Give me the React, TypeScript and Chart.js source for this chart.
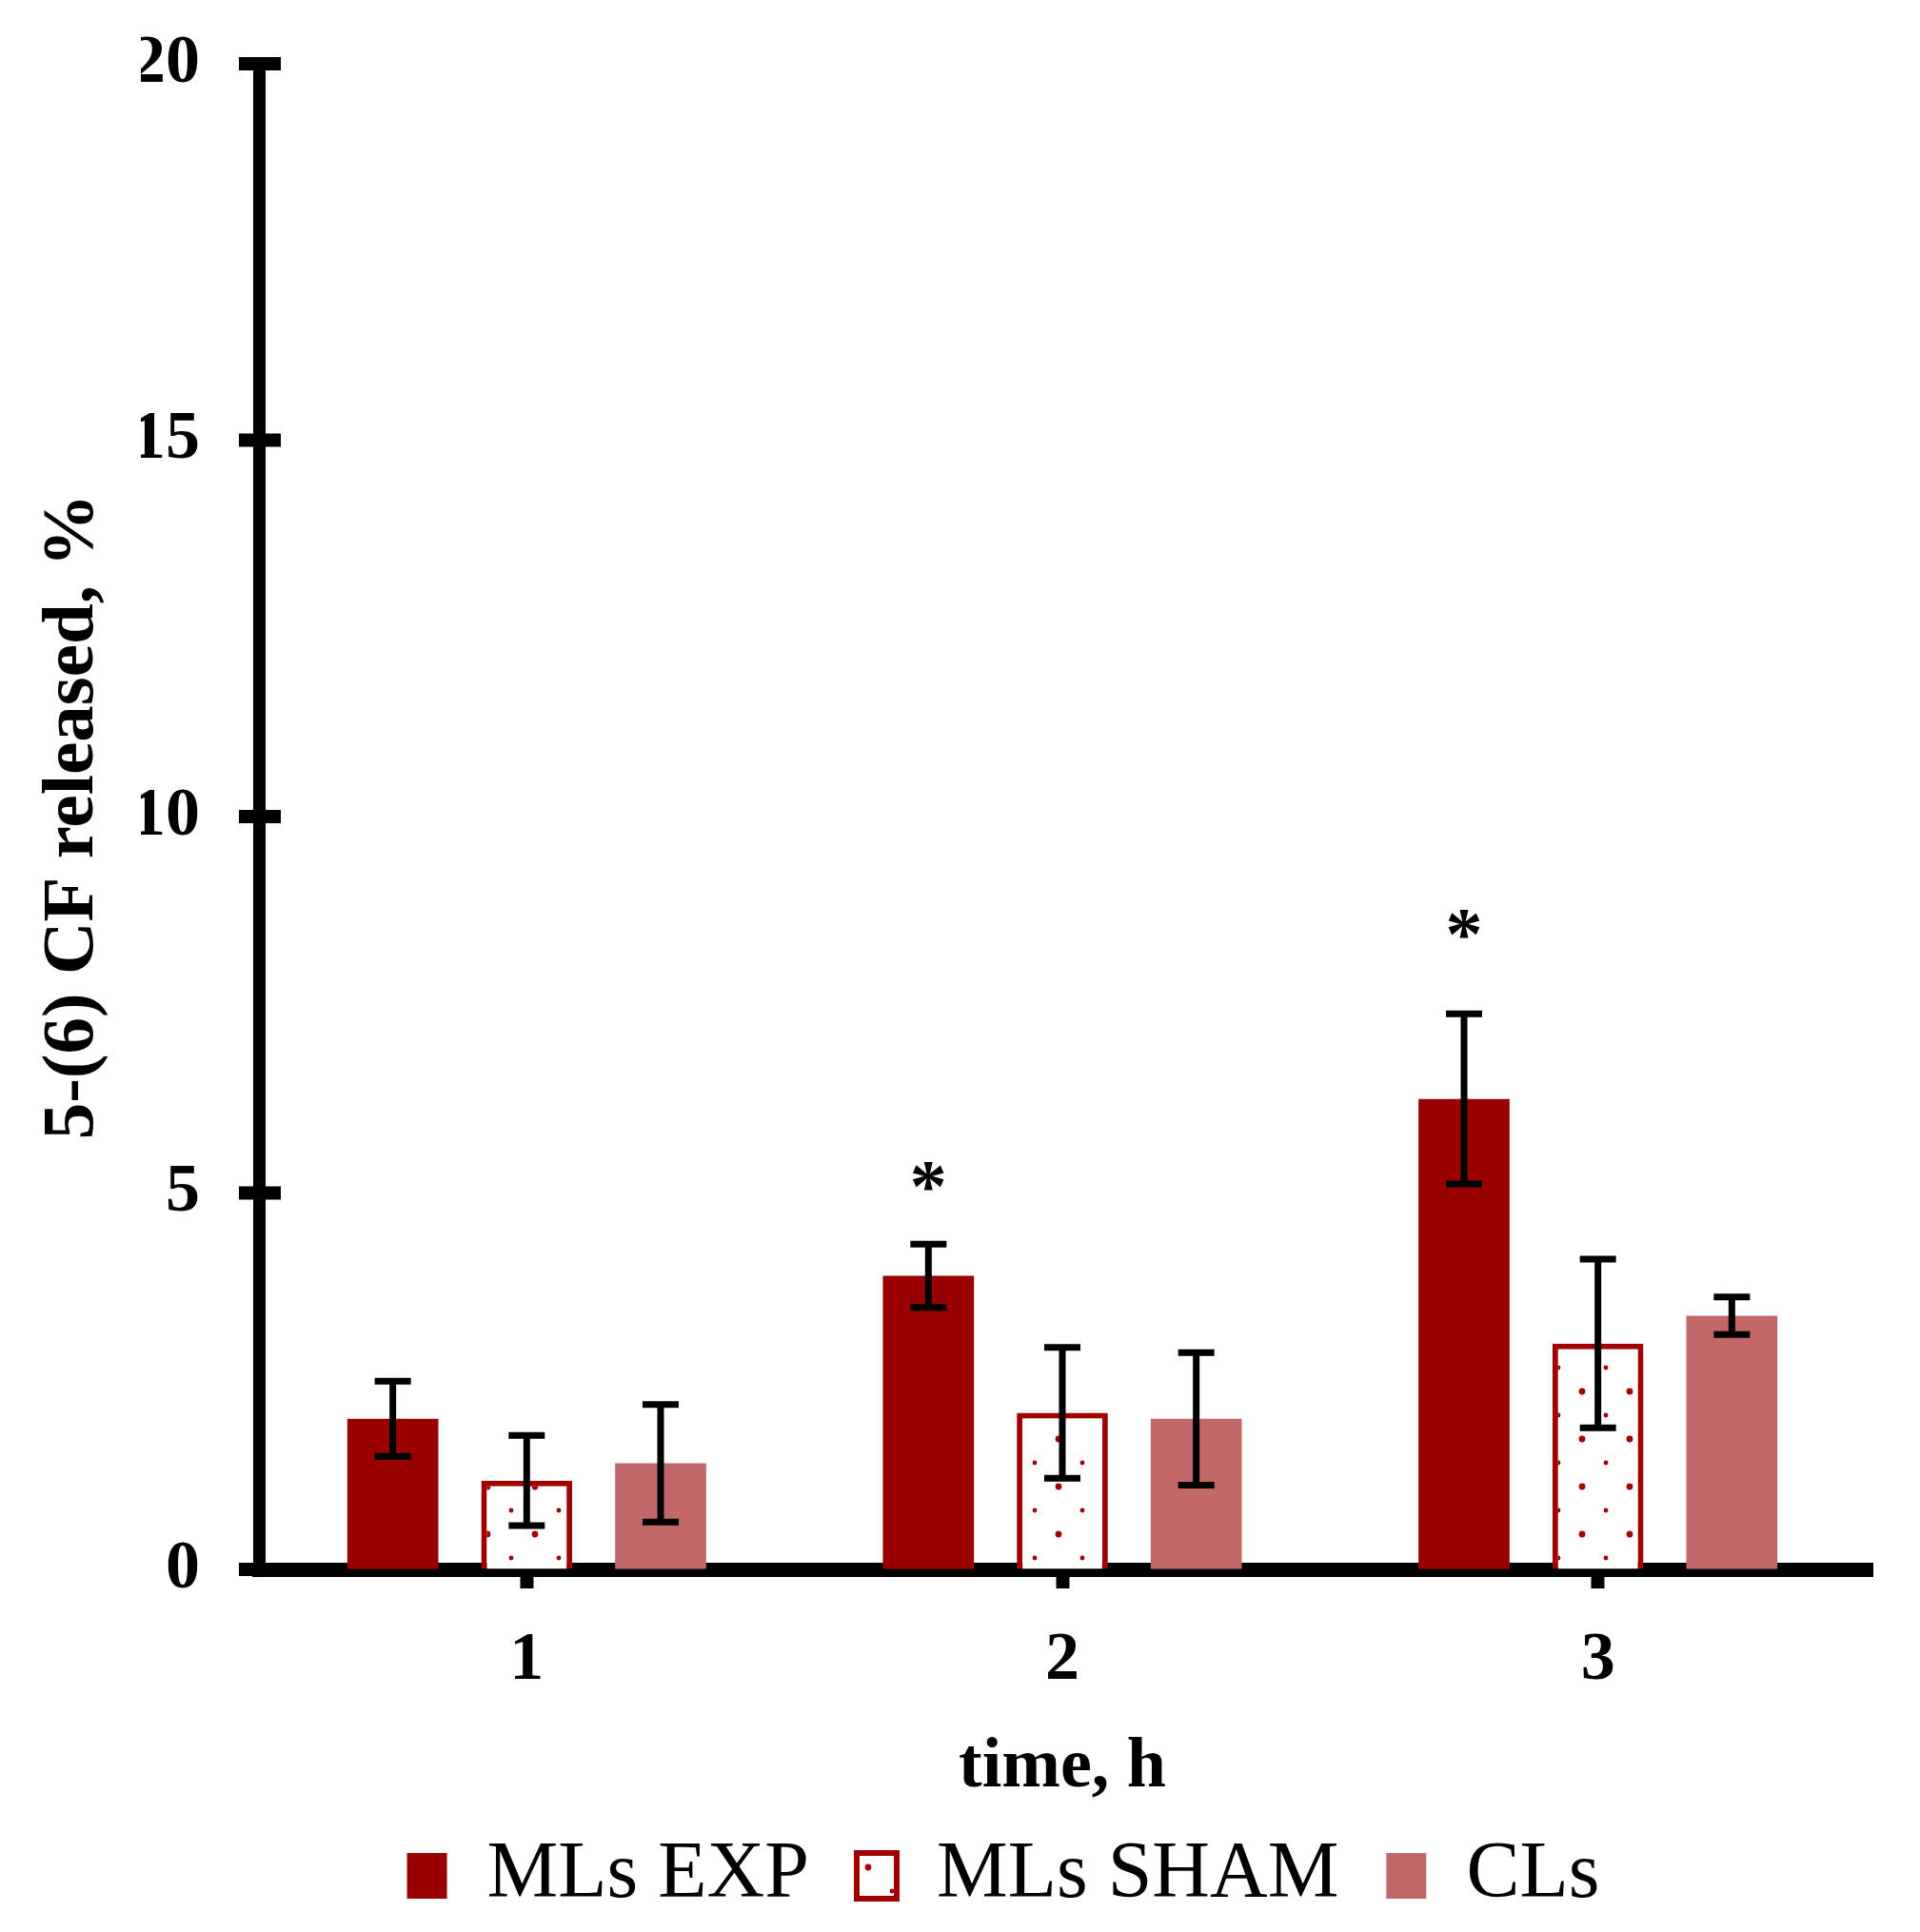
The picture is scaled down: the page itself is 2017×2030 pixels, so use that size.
import React, { useEffect, useRef } from 'react';
import { Chart, registerables } from 'chart.js';

Chart.register(...registerables);

const timePoints = ['1', '2', '3'];
const mlsExp = [2.0, 3.9, 6.25];
const mlsExpErr = [0.5, 0.42, 1.13];
const mlsSham = [1.18, 2.08, 3.0];
const mlsShamErr = [0.6, 0.87, 1.12];
const cls = [1.41, 2.0, 3.37];
const clsErr = [0.78, 0.88, 0.25];
// significance marks over the MLs EXP bars and the level they sit at
const expMarks = ['', '*', '*'];
const expMarkLevel = [0, 5.23, 8.58];

const serif = "'Liberation Serif', 'Times New Roman', serif";
const expColor = '#990000';
const shamColor = '#a00000';
const clsColor = '#c26767';

const makeDots = (color: string) => {
  const tile = document.createElement('canvas');
  tile.width = 50;
  tile.height = 50;
  const g = tile.getContext('2d')!;
  g.fillStyle = '#ffffff';
  g.fillRect(0, 0, 50, 50);
  g.fillStyle = color;
  g.beginPath();
  g.arc(12, 12, 3.4, 0, Math.PI * 2);
  g.fill();
  g.beginPath();
  g.arc(37, 37, 2.4, 0, Math.PI * 2);
  g.fill();
  return g.createPattern(tile, 'repeat');
};

const errorBars = {
  id: 'errorBars',
  afterDatasetsDraw(chart: any) {
    const { ctx } = chart;
    const y = chart.scales.y;
    ctx.save();
    ctx.strokeStyle = '#000';
    ctx.lineWidth = 7;
    chart.data.datasets.forEach((ds: any, i: number) => {
      chart.getDatasetMeta(i).data.forEach((bar: any, j: number) => {
        const v = ds.data[j];
        const e = ds.errors[j];
        const top = y.getPixelForValue(v + e);
        const bot = y.getPixelForValue(v - e);
        ctx.beginPath();
        ctx.moveTo(bar.x, top);
        ctx.lineTo(bar.x, bot);
        ctx.moveTo(bar.x - 19, top);
        ctx.lineTo(bar.x + 19, top);
        ctx.moveTo(bar.x - 19, bot);
        ctx.lineTo(bar.x + 19, bot);
        ctx.stroke();
      });
    });
    // asterisks above the MLs EXP bars
    ctx.fillStyle = '#000';
    ctx.font = `bold 78px ${serif}`;
    ctx.textAlign = 'center';
    ctx.textBaseline = 'alphabetic';
    chart.getDatasetMeta(0).data.forEach((bar: any, j: number) => {
      if (!expMarks[j]) return;
      ctx.fillText(expMarks[j], bar.x, y.getPixelForValue(expMarkLevel[j]) + 37);
    });
    ctx.restore();
  },
};

// y tick marks that cross the axis line
const crossTicks = {
  id: 'crossTicks',
  afterDraw(chart: any) {
    const { ctx } = chart;
    const y = chart.scales.y;
    const x0 = y.right;
    ctx.save();
    ctx.strokeStyle = '#000';
    ctx.lineWidth = 14;
    y.ticks.forEach((t: any) => {
      const py = y.getPixelForValue(t.value);
      ctx.beginPath();
      ctx.moveTo(x0 - 21, py);
      ctx.lineTo(x0 + 23, py);
      ctx.stroke();
    });
    ctx.restore();
  },
};

export default function App() {
  const canvasRef = useRef<HTMLCanvasElement>(null);

  useEffect(() => {
    if (!canvasRef.current) return;
    const ctx = canvasRef.current.getContext('2d');
    if (!ctx) return;
    Chart.defaults.color = '#000';

    const chart = new Chart(ctx, {
      type: 'bar',
      data: {
        labels: timePoints,
        datasets: [
          {
            label: 'MLs EXP',
            data: mlsExp,
            errors: mlsExpErr,
            backgroundColor: expColor,
            borderWidth: 0,
          },
          {
            label: 'MLs SHAM',
            data: mlsSham,
            errors: mlsShamErr,
            backgroundColor: makeDots(shamColor),
            borderColor: shamColor,
            borderWidth: 6,
          },
          {
            label: 'CLs',
            data: cls,
            errors: clsErr,
            backgroundColor: clsColor,
            borderWidth: 0,
          },
        ] as any,
      },
      options: {
        animation: false,
        responsive: true,
        maintainAspectRatio: false,
        devicePixelRatio: 1,
        layout: { padding: { top: 67, left: 148, right: 57, bottom: 7 } },
        datasets: { bar: { categoryPercentage: 0.75, barPercentage: 0.68 } },
        scales: {
          x: {
            z: 1,
            grid: {
              display: true,
              drawOnChartArea: false,
              drawTicks: true,
              offset: false,
              tickLength: 20,
              tickWidth: 14,
              lineWidth: 15,
              color: '#000',
            },
            border: { display: true, width: 15, color: '#000' },
            ticks: { padding: 33, font: { family: serif, size: 72, weight: 'bold' } },
            title: {
              display: true,
              text: 'time, h',
              padding: { top: 0, bottom: -23 },
              font: { family: serif, size: 74, weight: 'bold' },
            },
            afterFit: (scale: any) => {
              scale.height = 230;
            },
          },
          y: {
            z: 1,
            min: 0,
            max: 20,
            ticks: { stepSize: 5, padding: 0, font: { family: serif, size: 72, weight: 'bold' } },
            // invisible tick marks only keep the labels clear of the axis
            grid: {
              display: true,
              drawOnChartArea: false,
              drawTicks: true,
              tickLength: 62,
              tickColor: 'rgba(0,0,0,0)',
            },
            border: { display: true, width: 13, color: '#000' },
            title: {
              display: true,
              text: '5-(6) CF released, %',
              padding: { top: -117, bottom: 0 },
              font: { family: serif, size: 77, weight: 'bold' },
            },
            afterFit: (scale: any) => {
              scale.width = 124;
            },
          },
        },
        plugins: {
          legend: {
            position: 'bottom',
            labels: {
              boxWidth: 42,
              boxHeight: 48,
              padding: 50,
              color: '#000',
              font: { family: serif, size: 84 },
            },
          },
          tooltip: { enabled: false },
        },
      } as any,
      plugins: [errorBars, crossTicks],
    });

    return () => chart.destroy();
  }, []);

  return (
    <div style={{ position: 'absolute', left: 0, top: 0, width: 2017, height: 2030, background: '#fff' }}>
      <canvas ref={canvasRef} />
    </div>
  );
}
